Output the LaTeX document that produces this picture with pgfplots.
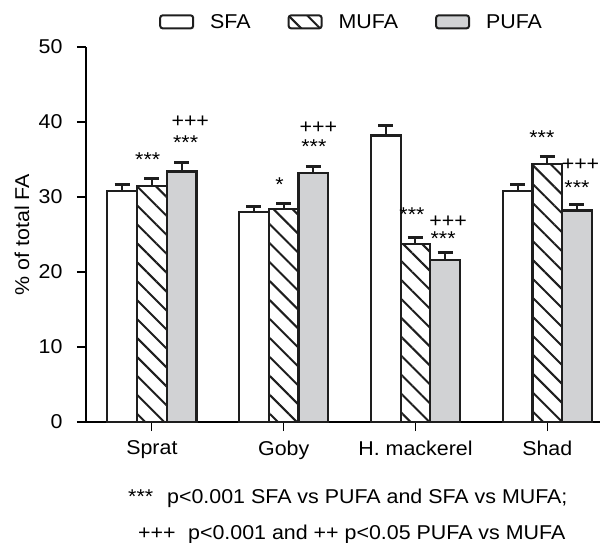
\documentclass[border=0pt]{standalone}
\usepackage{fontspec}
\setmainfont{Liberation Sans}[FakeStretch=1.07]
\usepackage{pgfplots}
\pgfplotsset{compat=1.18}
\usetikzlibrary{patterns.meta}
\definecolor{edge}{HTML}{1E1E1E}
\definecolor{pufa}{HTML}{D1D2D4}
\newcommand{\fs}{\fontsize{20}{24}\selectfont}
\begin{document}
\begin{tikzpicture}
\useasboundingbox (0,0) rectangle (600pt,-542pt);
\begin{axis}[
 at={(86pt,-422pt)}, anchor=south west,
 scale only axis, width=514pt, height=375pt,
 xmin=-0.5, xmax=3.4, ymin=0, ymax=50,
 axis lines*=left, axis line style={-, line width=1.1pt, black},
 ybar=0pt, bar width=29.7pt,
 xtick={0,1,2,3}, xticklabels={Sprat,Goby,H. mackerel,Shad},
 ytick={0,10,20,30,40,50},
 tick align=outside, major tick length=9pt,
 tick style={line width=1.1pt, black},
 /pgf/number format/assume math mode=true,
 tick label style={font=\fs},
 xticklabel style={yshift=-6pt},
 yticklabel style={xshift=-11pt},
 label style={font=\fs},
 ylabel={\% of total FA},
 ylabel style={at={(axis description cs:-0.1245,0.5)}, anchor=center},
 clip=false,
 legend columns=3,
 legend cell align=left,
 legend style={at={(axis description cs:0.142,1.067)}, anchor=west, draw=none, fill=none, inner sep=0pt, font=\fs,
   /tikz/every even column/.append style={column sep=37pt},
   /tikz/every odd column/.append style={column sep=16pt},
   nodes={inner sep=0pt}},
 legend image code/.code={\draw[#1,rounded corners=2.5pt,line width=2pt] (0pt,-6.5pt) rectangle (33pt,6.5pt);},
 error bars/y dir=plus, error bars/y explicit,
 error bars/error bar style={line width=2pt, edge},
 error bars/error mark options={rotate=90, line width=3pt, mark size=7.5pt, edge},
]
\addplot[draw=edge, fill=white, line width=2.2pt, bar shift=-29.7pt]
 coordinates {(0,30.8) +- (0,0.85) (1,28.0) +- (0,0.8) (2,38.2) +- (0,1.35) (3,30.8) +- (0,0.85)};
\addplot[draw=edge, line width=2.2pt, bar shift=0pt, pattern={Lines[angle=-45,distance=13.4pt,line width=2pt]}, pattern color=edge]
 coordinates {(0,31.5) +- (0,0.95) (1,28.4) +- (0,0.75) (2,23.7) +- (0,0.95) (3,34.4) +- (0,1.05)};
\addplot[draw=edge, fill=pufa, line width=2.2pt, bar shift=29.7pt]
 coordinates {(0,33.4) +- (0,1.25) (1,33.2) +- (0,0.9) (2,21.6) +- (0,0.95) (3,28.2) +- (0,0.85)};
\legend{SFA,MUFA,PUFA}
\node[font=\fs, anchor=base, inner sep=0pt] at (axis cs:-0.032,34.1) {***};
\node[font=\fs, anchor=base, inner sep=0pt] at (axis cs:0.291,39.3) {+++};
\node[font=\fs, anchor=base, inner sep=0pt] at (axis cs:0.256,36.4) {***};
\node[font=\fs, anchor=base, inner sep=0pt] at (axis cs:0.968,30.7) {*};
\node[font=\fs, anchor=base, inner sep=0pt] at (axis cs:1.264,38.5) {+++};
\node[font=\fs, anchor=base, inner sep=0pt] at (axis cs:1.229,35.8) {***};
\node[font=\fs, anchor=base, inner sep=0pt] at (axis cs:1.973,26.7) {***};
\node[font=\fs, anchor=base, inner sep=0pt] at (axis cs:2.248,26.0) {+++};
\node[font=\fs, anchor=base, inner sep=0pt] at (axis cs:2.210,23.6) {***};
\node[font=\fs, anchor=base, inner sep=0pt] at (axis cs:2.959,37.0) {***};
\node[font=\fs, anchor=base, inner sep=0pt] at (axis cs:3.252,33.5) {+++};
\node[font=\fs, anchor=base, inner sep=0pt] at (axis cs:3.225,30.4) {***};
\end{axis}
\node[font=\fs, anchor=base west, inner sep=0pt] at (128pt,-503pt) {***};
\node[font=\fs, anchor=base west, inner sep=0pt] at (167pt,-503pt) {p<0.001 SFA vs PUFA and SFA vs MUFA;};
\node[font=\fs, anchor=base west, inner sep=0pt] at (138pt,-539pt) {+++};
\node[font=\fs, anchor=base west, inner sep=0pt] at (188pt,-539pt) {p<0.001 and ++ p<0.05 PUFA vs MUFA};
\end{tikzpicture}
\end{document}
